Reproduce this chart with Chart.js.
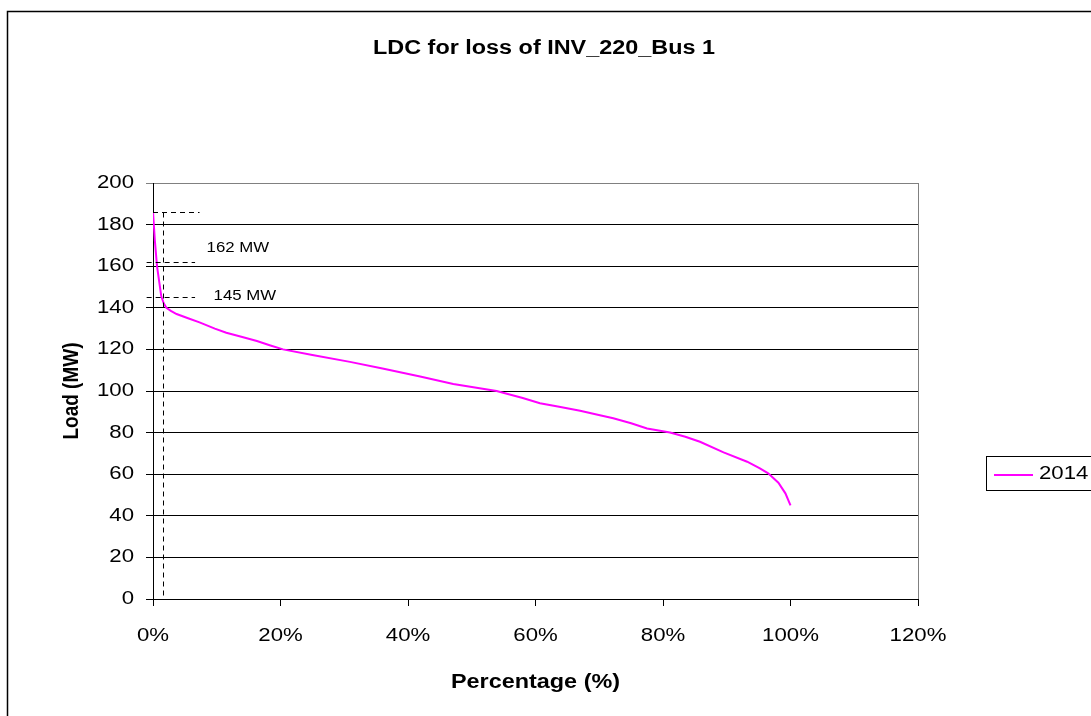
<!DOCTYPE html>
<html>
<head>
<meta charset="utf-8">
<title>LDC for loss of INV_220_Bus 1</title>
<script src="https://cdn.jsdelivr.net/npm/chart.js@4.4.1/dist/chart.umd.min.js"></script>
<style>
  html, body { margin: 0; padding: 0; background: #fff; }
  #wrap { position: relative; width: 1091px; height: 716px; }
</style>
</head>
<body>
<div id="wrap"><canvas id="myChart" width="1091" height="716"></canvas></div>
<script>
// load duration curve
var percentage = [0, 0.3, 0.63, 1.0, 1.3, 1.7, 2.1, 2.8, 3.7, 5.5, 7.3, 9.7, 11.5, 14, 16.3, 18.3, 20.4,
    25, 30.9, 36, 41.9, 47.1, 53.9, 58, 60.7, 63.5, 67, 70.1, 72.2, 75, 77.5, 81.1, 83.5, 85.8,
    89.5, 93.2, 95.2, 96.5, 98.1, 99.2, 100];
var load2014 = [186, 172, 160, 152, 145.5, 142, 140, 138.5, 137, 135, 133, 130, 128, 126, 124, 122, 120,
    117.3, 114, 110.8, 107, 103.4, 100, 96.6, 94.1, 92.6, 90.5, 88.3, 86.9, 84.5, 82, 80, 78, 75.6,
    70.5, 66, 62.8, 60.4, 55.9, 50.8, 45];
var seriesName = "2014";
var xTicks = [0, 20, 40, 60, 80, 100, 120];
var yTicks = [0, 20, 40, 60, 80, 100, 120, 140, 160, 180, 200];

// dashed marker lines
var peakLoad = 186;
var markerLoads = [162, 145];
var markerLabels = ["162 MW", "145 MW"];
var markerPct = 1.6;

var FONT = "'Liberation Sans', Arial, sans-serif";
var STRETCH = 1.2; // the original picture's text is drawn wide

// draw every text a bit wider, like the original (vertical text gets thicker, not longer)
function widenText(ctx) {
    var fill = ctx.fillText;
    ctx.fillText = function(text, x, y, maxWidth) {
        var m = ctx.getTransform();
        var rotated = Math.abs(m.b) > 0.5;
        ctx.save();
        ctx.translate(x, y);
        if (rotated) ctx.scale(1, STRETCH);
        else ctx.scale(STRETCH, 1);
        if (maxWidth === undefined) fill.call(ctx, text, 0, 0);
        else fill.call(ctx, text, 0, 0, maxWidth);
        ctx.restore();
    };
}

var extras = {
    id: "extras",
    afterDatasetsDraw: function(chart) {
        var ctx = chart.ctx, a = chart.chartArea;
        var xs = chart.scales.x, ys = chart.scales.y;
        ctx.save();
        // plot area right border
        ctx.strokeStyle = "#808080";
        ctx.lineWidth = 1;
        ctx.beginPath();
        ctx.moveTo(Math.round(a.right) + 0.5, a.top);
        ctx.lineTo(Math.round(a.right) + 0.5, a.bottom);
        ctx.stroke();

        // dashed markers
        ctx.strokeStyle = "#000";
        ctx.setLineDash([5, 4]);
        var yp = Math.round(ys.getPixelForValue(peakLoad)) + 0.5;
        var xv = Math.round(xs.getPixelForValue(markerPct)) + 0.5;
        ctx.beginPath();
        ctx.moveTo(xs.getPixelForValue(0), yp);
        ctx.lineTo(xs.getPixelForValue(7.3), yp);
        ctx.moveTo(xv, yp);
        ctx.lineTo(xv, a.bottom);
        markerLoads.forEach(function(v) {
            var y = Math.round(ys.getPixelForValue(v)) + 0.5;
            ctx.moveTo(xs.getPixelForValue(-1), y);
            ctx.lineTo(xs.getPixelForValue(6.6), y);
        });
        ctx.stroke();
        ctx.setLineDash([]);

        ctx.fillStyle = "#000";
        ctx.font = "14px " + FONT;
        ctx.textBaseline = "middle";
        ctx.textAlign = "left";
        ctx.fillText(markerLabels[0], xs.getPixelForValue(8.4), ys.getPixelForValue(168.8));
        ctx.fillText(markerLabels[1], xs.getPixelForValue(9.5), ys.getPixelForValue(145.7));

        // title
        ctx.font = "bold 19.5px " + FONT;
        ctx.textAlign = "center";
        ctx.fillText("LDC for loss of INV_220_Bus 1", 544, 49);

        // legend
        ctx.strokeStyle = "#000";
        ctx.strokeRect(986.5, 456.5, 130, 34);
        ctx.strokeStyle = "#ff00ff";
        ctx.lineWidth = 2;
        ctx.beginPath();
        ctx.moveTo(994, 475);
        ctx.lineTo(1033, 475);
        ctx.stroke();
        ctx.font = "18.5px " + FONT;
        ctx.textAlign = "left";
        ctx.fillText(chart.data.datasets[0].label, 1039, 474);

        // outer chart border
        ctx.strokeStyle = "#000";
        ctx.lineWidth = 1.5;
        ctx.beginPath();
        ctx.moveTo(1091, 11.5);
        ctx.lineTo(7.5, 11.5);
        ctx.lineTo(7.5, 716);
        ctx.stroke();
        ctx.restore();
    }
};

var context = document.getElementById("myChart").getContext("2d");
widenText(context);

new Chart(context, {
    type: "line",
    data: {
        datasets: [{
            label: seriesName,
            data: percentage.map(function(p, i) { return { x: p, y: load2014[i] }; }),
            borderColor: "#ff00ff",
            backgroundColor: "#ff00ff",
            borderWidth: 2,
            pointRadius: 0,
            tension: 0,
            fill: false
        }]
    },
    options: {
        responsive: false,
        animation: false,
        devicePixelRatio: 1,
        layout: { padding: { top: 183, right: 173, bottom: 0, left: 0 } },
        plugins: { legend: { display: false }, title: { display: false }, tooltip: { enabled: false } },
        scales: {
            x: {
                type: "linear",
                min: 0,
                max: 120,
                afterBuildTicks: function(s) { s.ticks = xTicks.map(function(v) { return { value: v }; }); },
                afterFit: function(s) { s.height = 117; },
                ticks: {
                    color: "#000",
                    padding: 19,
                    font: { family: FONT, size: 18.5 },
                    callback: function(v) { return v + "%"; }
                },
                grid: { drawOnChartArea: false, drawTicks: true, tickLength: 7, color: "#000" },
                border: { color: "#000", width: 1 },
                title: {
                    display: true,
                    text: "Percentage (%)",
                    color: "#000",
                    font: { family: FONT, size: 19.5, weight: "bold" },
                    padding: { top: 0, bottom: 22 }
                }
            },
            y: {
                min: 0,
                max: 200,
                afterBuildTicks: function(s) { s.ticks = yTicks.map(function(v) { return { value: v }; }); },
                afterFit: function(s) { s.width = 153; },
                ticks: {
                    color: "#000",
                    padding: 12,
                    font: { family: FONT, size: 18.5 }
                },
                grid: {
                    tickLength: 7,
                    color: function(c) { return c.tick && c.tick.value === 200 ? "#808080" : "#000"; }
                },
                border: { color: "#000", width: 1 },
                title: {
                    display: true,
                    text: "Load (MW)",
                    color: "#000",
                    font: { family: FONT, size: 19, weight: "bold" },
                    padding: { top: 60, bottom: 0 }
                }
            }
        }
    },
    plugins: [extras]
});
</script>
</body>
</html>
